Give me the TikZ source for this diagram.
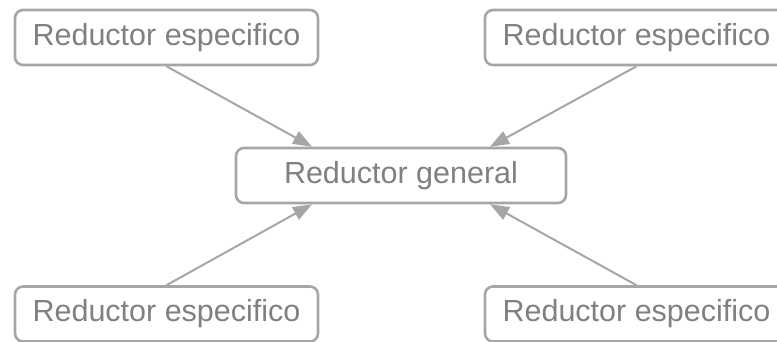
\documentclass[tikz,border=0pt]{standalone}
\usepackage{fontspec}
\setmainfont{Liberation Sans}
\usetikzlibrary{arrows.meta}
\definecolor{boxline}{HTML}{A6A6A6}
\definecolor{boxtext}{HTML}{808080}
\definecolor{arrowline}{HTML}{A6A6A6}
\begin{document}
\begin{tikzpicture}[x=1pt,y=1pt,
  reducer/.style={draw=boxline, line width=2.6pt, rounded corners=8pt,
    minimum width=303pt, minimum height=55pt, inner sep=0pt,
    text=boxtext, font=\fontsize{30.5}{35}\selectfont},
  general/.style={reducer, minimum width=330pt},
  feed/.style={draw=arrowline, line width=2pt,
    -{Triangle[length=19pt,width=14pt]}}]
  \useasboundingbox (0,0) rectangle (777,341);
  \clip (0,0) rectangle (777,341);
  % central reducer
  \node[general] (c) at (401,165.5) {Reductor general};
  % specific reducers in the four corners
  \node[reducer] (tl) at (166.5,303.5) {Reductor especifico};
  \node[reducer] (tr) at (636.5,303.5) {Reductor especifico};
  \node[reducer] (bl) at (166.5,27) {Reductor especifico};
  \node[reducer] (br) at (636.5,27) {Reductor especifico};
  % each specific reducer feeds the general one
  \draw[feed] (tl.south) -- ([xshift=-89pt]c.north);
  \draw[feed] (tr.south) -- ([xshift=89pt]c.north);
  \draw[feed] (bl.north) -- ([xshift=-89pt]c.south);
  \draw[feed] (br.north) -- ([xshift=89pt]c.south);
\end{tikzpicture}
\end{document}
